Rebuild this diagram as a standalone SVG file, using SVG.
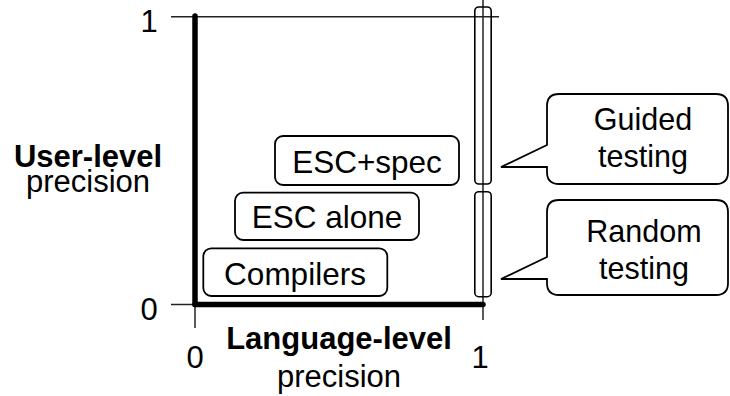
<svg xmlns="http://www.w3.org/2000/svg" width="730" height="396" viewBox="0 0 730 396">
<style>
text{font-family:"Liberation Sans",Arial,sans-serif;fill:#000}
.lbl{font-size:30.5px;text-anchor:middle}
.box{font-size:31.5px;text-anchor:middle}
.ax{font-size:31px;text-anchor:middle}
.b{font-weight:bold}
.thin{stroke:#222;stroke-width:1.5;fill:none}
.thick{stroke:#000;stroke-width:5.5;fill:none;stroke-linecap:round}
.node{fill:#fff;stroke:#000;stroke-width:1.8}
.bar{fill:none;stroke:#000;stroke-width:1.6}
</style>
<g id="axes">
<line class="thin" x1="171" y1="16.7" x2="499" y2="16.7"/>
<line class="thin" x1="483" y1="0" x2="483" y2="320"/>
<line class="thin" x1="171" y1="304.5" x2="195" y2="304.5"/>
<line class="thin" x1="195" y1="304.5" x2="195" y2="328"/>
<line class="thick" x1="195" y1="16" x2="195" y2="304.5"/>
<line class="thick" x1="195" y1="304.5" x2="483" y2="304.5"/>
<text class="ax" x="149" y="32">1</text>
<text class="ax" x="149" y="320">0</text>
<text class="ax" x="195" y="368">0</text>
<text class="ax" x="480" y="368">1</text>
<text class="ax b" x="88" y="167">User-level</text>
<text class="ax" x="88" y="192">precision</text>
<text class="ax b" x="339" y="349">Language-level</text>
<text class="ax" x="339" y="387">precision</text>
</g>
<g id="bar-guided"><rect class="bar" x="474.8" y="7" width="16.4" height="177" rx="4"/></g>
<g id="bar-random"><rect class="bar" x="474.8" y="191.7" width="16.4" height="105" rx="4"/></g>
<g id="esc-spec">
<rect class="node" x="275" y="136" width="184" height="49" rx="8"/>
<text class="box" x="367" y="172.7">ESC+spec</text>
</g>
<g id="esc-alone">
<rect class="node" x="235" y="192.7" width="184" height="47.3" rx="8"/>
<text class="box" x="327" y="228.3">ESC alone</text>
</g>
<g id="compilers">
<rect class="node" x="203.3" y="248.3" width="184" height="47.7" rx="8"/>
<text class="box" x="295" y="285">Compilers</text>
</g>
<g id="guided">
<path class="node" d="M559,94 H716 Q728,94 728,106 V172 Q728,184 716,184 H559 Q547,184 547,172 V167 L501,167 L547,145 V106 Q547,94 559,94 Z"/>
<text class="lbl" x="643" y="130">Guided</text>
<text class="lbl" x="643" y="167">testing</text>
</g>
<g id="random">
<path class="node" d="M559,200 H716 Q728,200 728,212 V283 Q728,295 716,295 H559 Q547,295 547,283 V279 L501,279 L547,257 V212 Q547,200 559,200 Z"/>
<text class="lbl" x="644" y="242">Random</text>
<text class="lbl" x="644" y="278.5">testing</text>
</g>
<g id="connectors"></g>
</svg>
